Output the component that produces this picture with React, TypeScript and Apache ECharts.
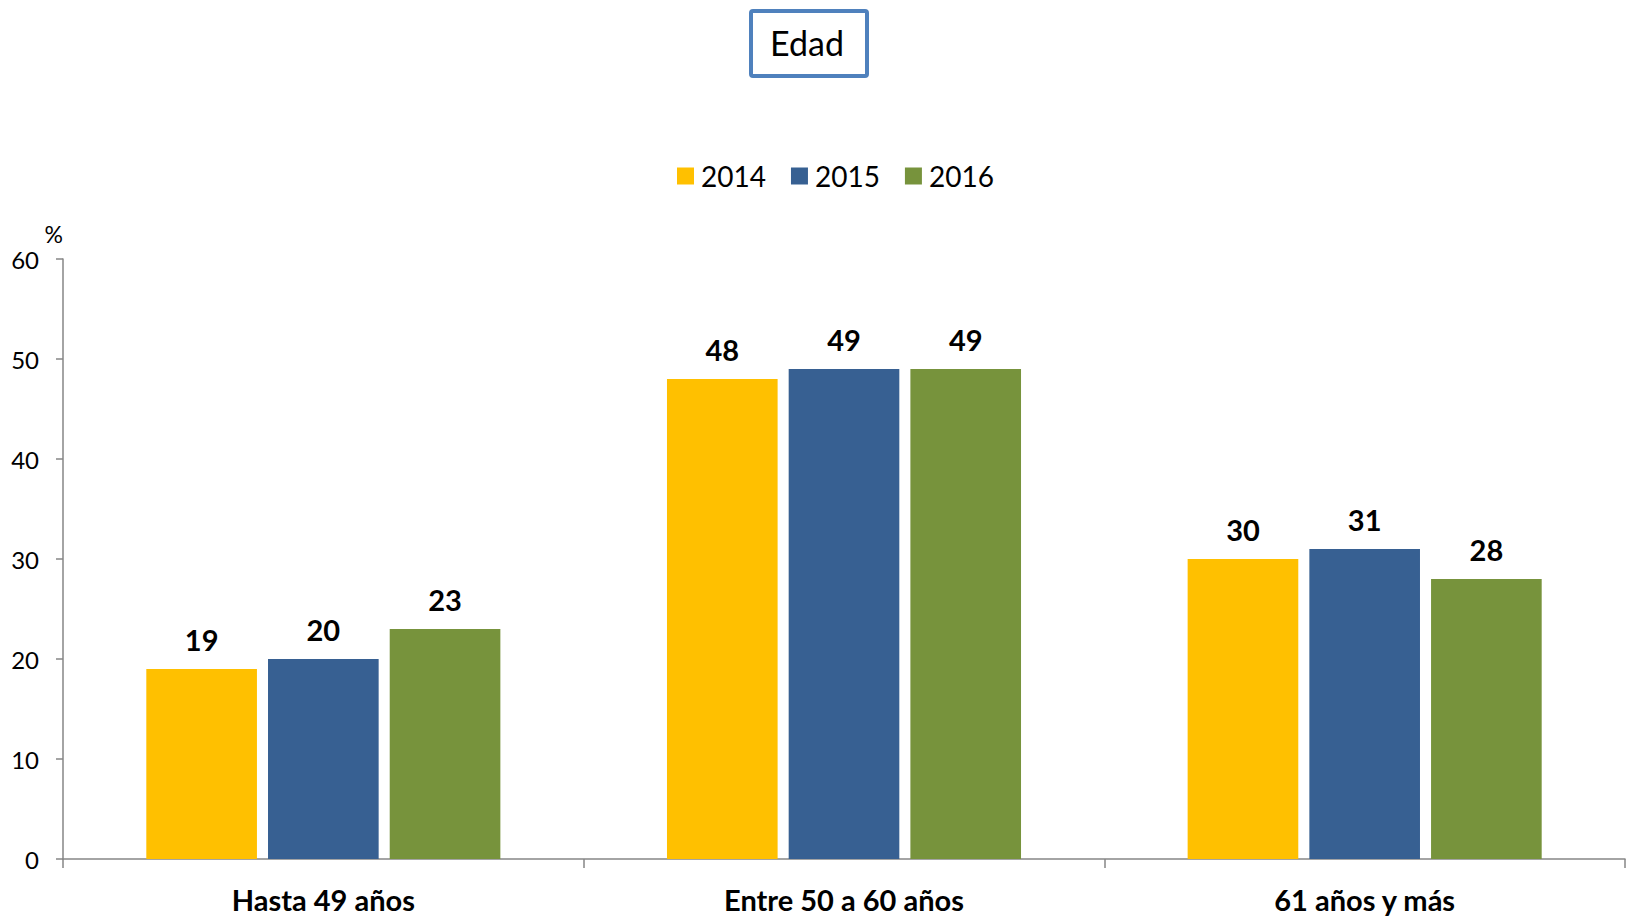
import React, { useEffect, useRef } from "react";
import * as echarts from "echarts";

const categories = ["Hasta 49 años", "Entre 50 a 60 años", "61 años y más"];
const seriesNames = ["2014", "2015", "2016"];
const values2014 = [19, 48, 30];
const values2015 = [20, 49, 31];
const values2016 = [23, 49, 28];
const colors = ["#FFC000", "#376092", "#77933C"];
const FONT = "Lato, 'Open Sans', sans-serif";

export default function App() {
  const ref = useRef<HTMLDivElement>(null);
  useEffect(() => {
    if (!ref.current) return;
    const chart = echarts.init(ref.current, undefined, { renderer: "svg" });
    const data = [values2014, values2015, values2016];
    chart.setOption({
      animation: false,
      backgroundColor: "#ffffff",
      textStyle: { fontFamily: FONT },
      graphic: [
        {
          type: "rect",
          left: 749,
          top: 9,
          shape: { width: 116, height: 65, r: 2 },
          style: { fill: "#ffffff", stroke: "#4F81BD", lineWidth: 4 },
        },
        {
          type: "text",
          x: 807,
          y: 42,
          style: {
            text: "Edad",
            font: `34px ${FONT}`,
            fill: "#000000",
            align: "center",
            verticalAlign: "middle",
          },
        },
      ],
      legend: {
        top: 157,
        left: 672,
        itemWidth: 17,
        itemHeight: 17,
        itemGap: 25,
        icon: "rect",
        textStyle: { fontSize: 28, color: "#000", fontFamily: FONT, padding: [0, 0, 0, 2] },
        data: seriesNames,
      },
      grid: { left: 63, right: 2, top: 259, bottom: 60, containLabel: false },
      xAxis: {
        type: "category",
        data: categories,
        axisLine: { lineStyle: { color: "#868686", width: 1.5 } },
        axisTick: { show: true, length: 9, lineStyle: { color: "#868686", width: 1.5 } },
        axisLabel: {
          fontSize: 29,
          fontWeight: "bold",
          color: "#000",
          margin: 26,
          fontFamily: FONT,
        },
      },
      yAxis: {
        type: "value",
        min: 0,
        max: 60,
        interval: 10,
        name: "%",
        nameLocation: "end",
        nameGap: 14,
        nameTextStyle: { fontSize: 23, color: "#000", align: "right", fontFamily: FONT },
        splitLine: { show: false },
        axisLine: { show: true, lineStyle: { color: "#868686", width: 1.5 } },
        axisTick: { show: true, length: 7, lineStyle: { color: "#868686", width: 1.5 } },
        axisLabel: { fontSize: 24, color: "#000", margin: 24, fontFamily: FONT },
      },
      series: seriesNames.map((name, i) => ({
        name,
        type: "bar",
        data: data[i],
        barGap: "10%",
        barCategoryGap: "32%",
        itemStyle: { color: colors[i] },
        label: {
          show: true,
          position: "top",
          distance: 15,
          fontSize: 29,
          fontWeight: "bold",
          color: "#000",
          fontFamily: FONT,
        },
      })),
    });
    return () => chart.dispose();
  }, []);
  return <div ref={ref} style={{ width: 1627, height: 919, position: "absolute", left: 0, top: 0 }} />;
}
